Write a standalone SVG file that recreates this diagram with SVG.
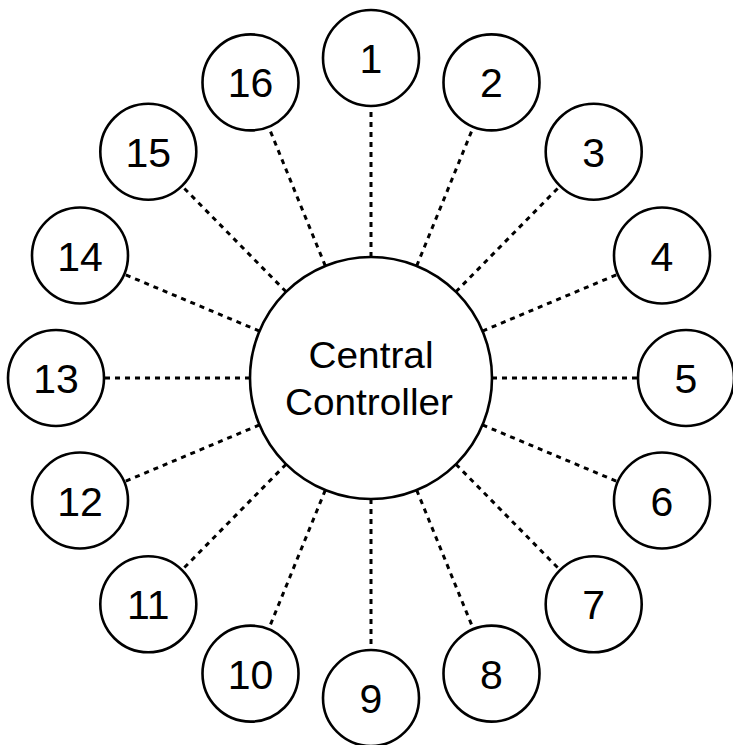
<svg xmlns="http://www.w3.org/2000/svg" width="733" height="745" viewBox="0 0 733 745">
<style>
.c{fill:#fff;stroke:#000;stroke-width:2.6}
.n{font-family:"Liberation Sans",Arial,sans-serif;font-size:41px;text-anchor:middle;fill:#000}
.t{font-family:"Liberation Sans",Arial,sans-serif;font-size:37px;text-anchor:middle;fill:#000}
.e line{stroke:#000;stroke-width:3;stroke-dasharray:5 5}
</style>
<rect width="733" height="745" fill="#fff"/>
<g id="connectors" class="e">
<line x1="371" y1="257" x2="371" y2="106"/>
<line x1="416.7" y1="265.9" x2="473.4" y2="126.8"/>
<line x1="455.9" y1="291.8" x2="560.1" y2="185.9"/>
<line x1="482.5" y1="331.1" x2="617.8" y2="274.2"/>
<line x1="492" y1="378" x2="638" y2="378"/>
<line x1="482.5" y1="424.9" x2="617.8" y2="481.8"/>
<line x1="455.9" y1="464.2" x2="560.1" y2="570.1"/>
<line x1="416.7" y1="490.1" x2="473.4" y2="629.2"/>
<line x1="371" y1="499" x2="371" y2="650"/>
<line x1="325.3" y1="490.1" x2="268.6" y2="629.2"/>
<line x1="286.1" y1="464.2" x2="181.9" y2="570.1"/>
<line x1="259.5" y1="424.9" x2="124.2" y2="481.8"/>
<line x1="250" y1="378" x2="104" y2="378"/>
<line x1="259.5" y1="331.1" x2="124.2" y2="274.2"/>
<line x1="286.1" y1="291.8" x2="181.9" y2="185.9"/>
<line x1="325.3" y1="265.9" x2="268.6" y2="126.8"/>
</g>
<g id="central"><circle class="c" cx="371" cy="378" r="121"/>
<text class="t" x="371" y="368" textLength="125" lengthAdjust="spacingAndGlyphs">Central</text>
<text class="t" x="369" y="415" textLength="168" lengthAdjust="spacingAndGlyphs">Controller</text></g>
<g id="n1"><circle class="c" cx="371" cy="58" r="48"/><text class="n" x="371" y="73">1</text></g>
<g id="n2"><circle class="c" cx="491.5" cy="82.4" r="48"/><text class="n" x="491.5" y="97.4">2</text></g>
<g id="n3"><circle class="c" cx="593.7" cy="151.7" r="48"/><text class="n" x="593.7" y="166.7">3</text></g>
<g id="n4"><circle class="c" cx="662" cy="255.5" r="48"/><text class="n" x="662" y="270.5">4</text></g>
<g id="n5"><circle class="c" cx="686" cy="378" r="48"/><text class="n" x="686" y="393">5</text></g>
<g id="n6"><circle class="c" cx="662" cy="500.5" r="48"/><text class="n" x="662" y="515.5">6</text></g>
<g id="n7"><circle class="c" cx="593.7" cy="604.3" r="48"/><text class="n" x="593.7" y="619.3">7</text></g>
<g id="n8"><circle class="c" cx="491.5" cy="673.6" r="48"/><text class="n" x="491.5" y="688.6">8</text></g>
<g id="n9"><circle class="c" cx="371" cy="698" r="48"/><text class="n" x="371" y="713">9</text></g>
<g id="n10"><circle class="c" cx="250.5" cy="673.6" r="48"/><text class="n" x="250.5" y="688.6">10</text></g>
<g id="n11"><circle class="c" cx="148.3" cy="604.3" r="48"/><text class="n" x="148.3" y="619.3">11</text></g>
<g id="n12"><circle class="c" cx="80" cy="500.5" r="48"/><text class="n" x="80" y="515.5">12</text></g>
<g id="n13"><circle class="c" cx="56" cy="378" r="48"/><text class="n" x="56" y="393">13</text></g>
<g id="n14"><circle class="c" cx="80" cy="255.5" r="48"/><text class="n" x="80" y="270.5">14</text></g>
<g id="n15"><circle class="c" cx="148.3" cy="151.7" r="48"/><text class="n" x="148.3" y="166.7">15</text></g>
<g id="n16"><circle class="c" cx="250.5" cy="82.4" r="48"/><text class="n" x="250.5" y="97.4">16</text></g>
</svg>
